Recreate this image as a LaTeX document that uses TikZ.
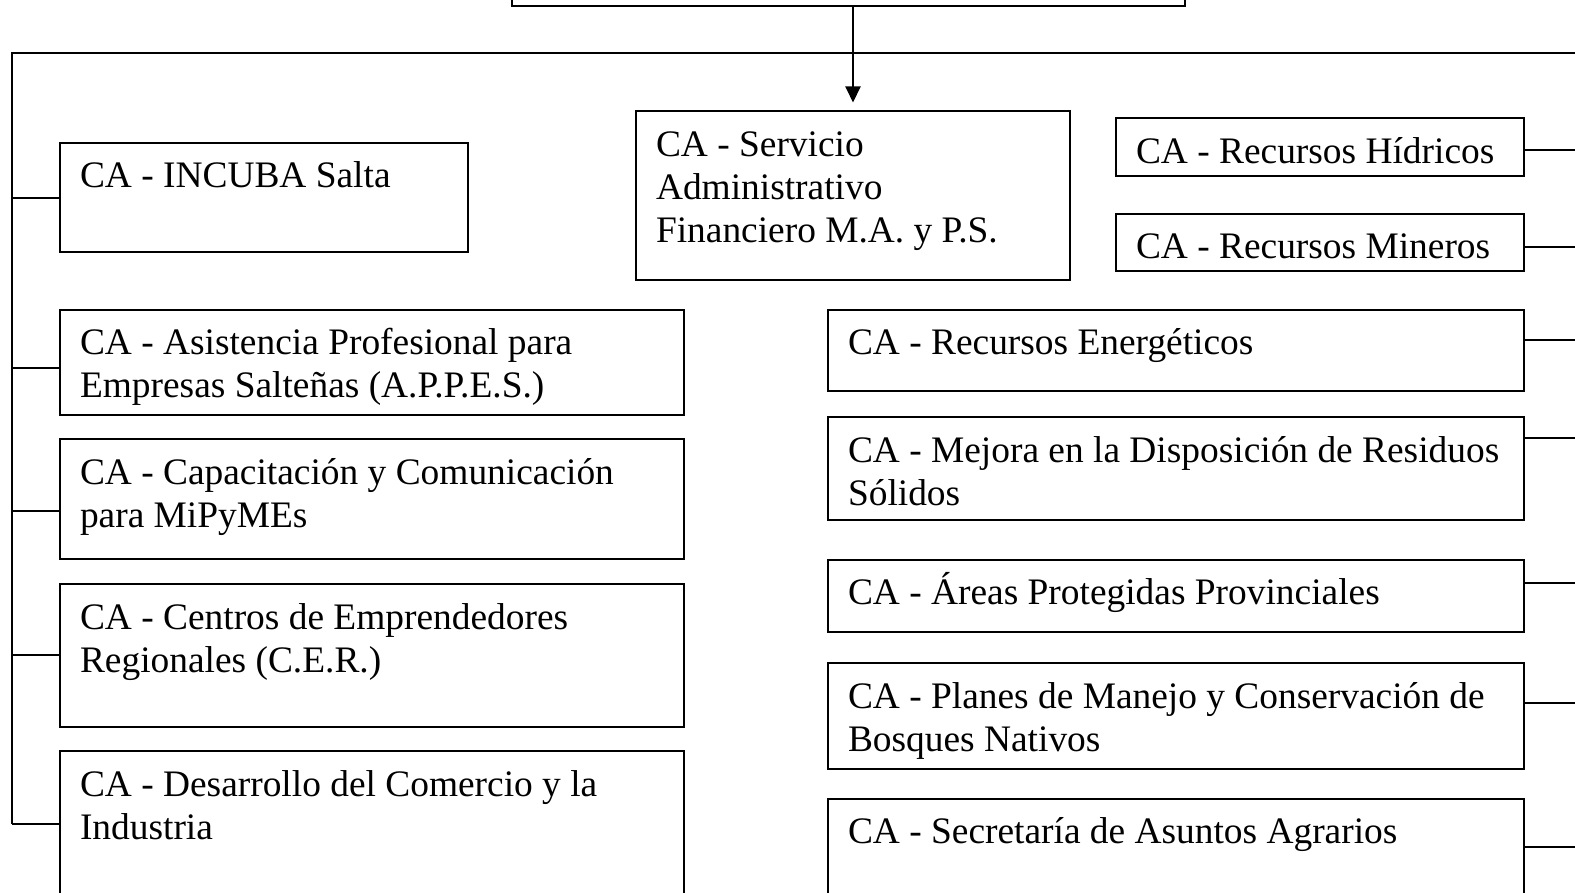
\documentclass[tikz,border=0pt]{standalone}
\usepackage{fontspec}
\setmainfont{Liberation Serif}
\usetikzlibrary{arrows.meta,positioning}
\tikzstyle{cabox}=[draw,line width=1pt,anchor=north west,inner xsep=10pt,inner ysep=0pt,outer sep=0pt,font=\fontsize{18.7pt}{21.5pt}\selectfont]
\tikzstyle{link}=[line width=1pt]
\newcommand{\catext}[3]{\parbox[t][#2][t]{#1}{\raggedright\rule{0pt}{22.5pt}#3}}

\begin{document}
\begin{tikzpicture}[x=0.5pt,y=-0.5pt]
    \useasboundingbox (0,0) rectangle (1575,893);
    \clip (0,0) rectangle (1575,893);
    % top box (cut off)
    \node [draw,line width=1pt,anchor=south west,outer sep=0pt,inner sep=0pt,
      minimum width=336.5pt,minimum height=60pt] (top) at (512,6) {};
    % middle
    \node [cabox] (servicio) at (636,111.5)
      {\catext{197pt}{84.25pt}{CA - Servicio\\Administrativo\\Financiero M.A. y P.S.}};
    % left column
    \node [cabox] (incuba) at (60,143)
      {\catext{184pt}{54.5pt}{CA - INCUBA Salta}};
    \node [cabox] (appes) at (60,310)
      {\catext{292pt}{52.5pt}{CA - Asistencia Profesional para\\Empresas Salteñas (A.P.P.E.S.)}};
    \node [cabox] (capac) at (60,439)
      {\catext{292pt}{60pt}{CA - Capacitación y Comunicación\\para MiPyMEs}};
    \node [cabox] (cer) at (60,584)
      {\catext{292pt}{71.5pt}{CA - Centros de Emprendedores\\Regionales (C.E.R.)}};
    \node [cabox] (comercio) at (60,751)
      {\catext{292pt}{100pt}{CA - Desarrollo del Comercio y la\\Industria}};
    % right column
    \node [cabox] (hidricos) at (1116,118.5)
      {\catext{184pt}{28.75pt}{CA - Recursos Hídricos}};
    \node [cabox] (mineros) at (1116,214)
      {\catext{184pt}{28.5pt}{CA - Recursos Mineros}};
    \node [cabox] (energia) at (828,310)
      {\catext{328pt}{40.5pt}{CA - Recursos Energéticos}};
    \node [cabox] (residuos) at (828,417)
      {\catext{328pt}{51.5pt}{CA - Mejora en la Disposición de Residuos\\Sólidos}};
    \node [cabox] (areas) at (828,559.5)
      {\catext{328pt}{36.25pt}{CA - Áreas Protegidas Provinciales}};
    \node [cabox] (bosques) at (828,663)
      {\catext{328pt}{53pt}{CA - Planes de Manejo y Conservación de\\Bosques Nativos}};
    \node [cabox] (agrarios) at (828,798.5)
      {\catext{328pt}{100pt}{CA - Secretaría de Asuntos Agrarios}};

    % connectors
    \coordinate (lt) at (12,53);
    \coordinate (rt) at (1600,53);
    \coordinate (lb) at (12,824);
    \draw [link] (rt) -- (lt) -- (lb);
    \draw [link,-{Triangle[width=7.5pt,length=8pt]}] (top.south -| servicio.north)
      -- ([yshift=4.5pt]servicio.north);
    \foreach \n/\y in {incuba/198,appes/368,capac/511,cer/655,comercio/824} {
      \coordinate (b\n) at (12,\y);
      \draw [link] (b\n) -- (b\n -| \n.west);
    }
    \foreach \n/\y in {hidricos/150,mineros/247,energia/340.5,residuos/438,
                       areas/582.5,bosques/703,agrarios/847} {
      \coordinate (b\n) at (1600,\y);
      \draw [link] (b\n -| \n.east) -- (b\n);
    }
\end{tikzpicture}
\end{document}
